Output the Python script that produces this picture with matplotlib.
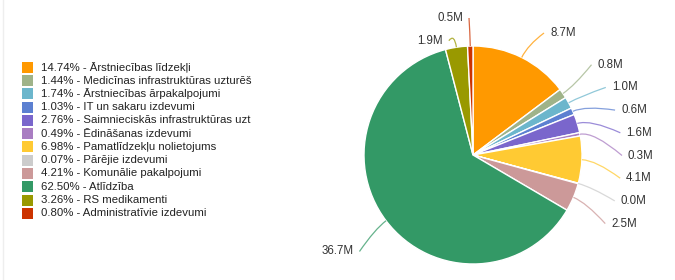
import numpy as np
import matplotlib
matplotlib.use('Agg')
import matplotlib.pyplot as plt
from matplotlib.patches import Rectangle, PathPatch
from matplotlib.path import Path

# data
categories = ['Ārstniecības līdzekļi', 'Medicīnas infrastruktūras uzturēš',
              'Ārstniecības ārpakalpojumi', 'IT un sakaru izdevumi',
              'Saimnieciskās infrastruktūras uzt', 'Ēdināšanas izdevumi',
              'Pamatlīdzekļu nolietojums', 'Pārējie izdevumi',
              'Komunālie pakalpojumi', 'Atlīdzība', 'RS medikamenti',
              'Administratīvie izdevumi']
percents = [14.74, 1.44, 1.74, 1.03, 2.76, 0.49, 6.98, 0.07, 4.21, 62.50, 3.26, 0.80]
value_labels = ['8.7M', '0.8M', '1.0M', '0.6M', '1.6M', '0.3M', '4.1M', '0.0M',
                '2.5M', '36.7M', '1.9M', '0.5M']
colors = ['#ff9900', '#9fb389', '#6cb6cc', '#5c80d1', '#7a66cc', '#a97dc2',
          '#ffca33', '#cccccc', '#cc9999', '#339966', '#999900', '#cc3300']

W, H = 675, 280
plt.rcParams['font.family'] = ['Liberation Sans', 'DejaVu Sans']

fig = plt.figure(figsize=(W / 100, H / 100), dpi=100)
ax = fig.add_axes([0, 0, 1, 1])

cx, cy, r = 473, H - 155, 109
wedges, _ = ax.pie(percents, colors=colors, startangle=90, counterclock=False,
                   center=(cx, cy), radius=r,
                   wedgeprops=dict(edgecolor='white', linewidth=1))
ax.set_xlim(0, W)
ax.set_ylim(0, H)
ax.set_aspect('auto')
ax.axis('off')

# label placement: natural height, clamp at top, push apart on each side
gap = 22.7
r_nat = 160
r_col = 149
top = {1: H - 33, -1: H - 18}
items = []
for i, w in enumerate(wedges):
    mid = np.radians((w.theta1 + w.theta2) / 2)
    side = 1 if np.cos(mid) >= 0 else -1
    items.append(dict(i=i, mid=mid, side=side, y=cy + r_nat * np.sin(mid)))

for side in (1, -1):
    grp = sorted([it for it in items if it['side'] == side], key=lambda d: -d['y'])
    prev = None
    for it in grp:
        y = it['y']
        it['clamped'] = y > top[side]
        y = min(y, top[side])
        if prev is not None:
            y = min(y, prev - gap)
        it['y'] = y
        prev = y

for it in items:
    mid, side, y = it['mid'], it['side'], it['y']
    if it['clamped']:
        x = cx + (r + 50) * np.cos(mid)
    else:
        x = cx + side * np.sqrt(max(r_col ** 2 - (y - cy) ** 2, 0))
    p0 = (cx + r * np.cos(mid), cy + r * np.sin(mid))
    p1 = (cx + (r + 14) * np.cos(mid), cy + (r + 14) * np.sin(mid))
    path = Path([p0, p1, (x, y)], [Path.MOVETO, Path.CURVE3, Path.CURVE3])
    ax.add_patch(PathPatch(path, fill=False, edgecolor=colors[it['i']],
                           linewidth=0.9, alpha=0.75))
    ax.text(x + side * 6, y, value_labels[it['i']], fontsize=8.3, color='#333333',
            ha='left' if side == 1 else 'right', va='center')

# legend
for k, (name, pct, col) in enumerate(zip(categories, percents, colors)):
    yk = H - (67.3 + k * 13.27)
    ax.add_patch(Rectangle((22, yk - 5.5), 11, 11, facecolor=col, edgecolor='none'))
    ax.text(41, yk, f'{pct:.2f}% - {name}', fontsize=8.2, color='#222222',
            va='center', ha='left')

ax.plot([3, 3], [0, H], color='#eeeeee', linewidth=1)

fig.savefig('out.png', dpi=100)
